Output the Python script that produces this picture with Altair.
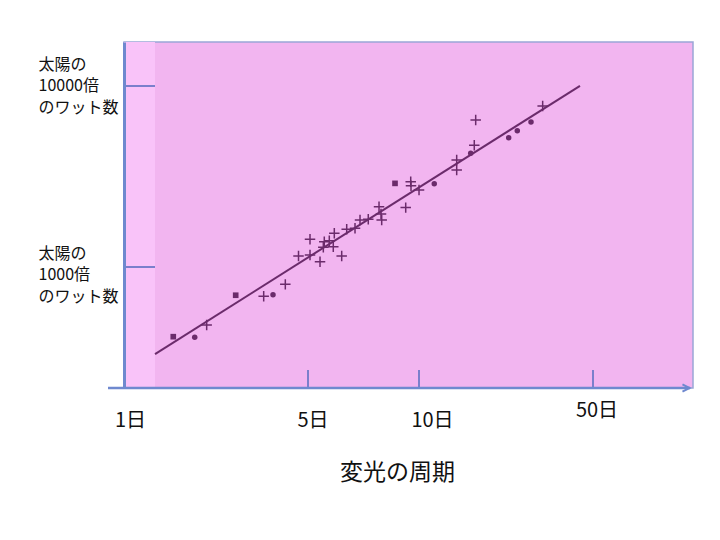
import altair as alt
import pandas as pd

# ---------------- data ----------------
# x is a relative position along the period axis (0 = axis origin, 100 = right edge)
# y is log10 of luminosity in solar units (3 = 1000x, 4 = 10000x)
plus_x = [14.53, 24.55, 28.35, 30.67, 32.69, 32.69, 34.45, 35.20, 35.03, 36.08,
          36.78, 36.96, 38.26, 39.14, 40.60, 41.48, 42.93, 44.82, 45.17, 45.29,
          49.51, 50.39, 50.44, 51.85, 58.47, 58.47, 61.56, 61.81, 73.58]
plus_y = [2.680, 2.838, 2.904, 3.061, 3.153, 3.066, 3.029, 3.140, 3.109, 3.145,
          3.112, 3.186, 3.061, 3.208, 3.214, 3.260, 3.264, 3.333, 3.293, 3.260,
          3.328, 3.471, 3.449, 3.425, 3.591, 3.536, 3.672, 3.812, 3.890]
dot_x = [12.43, 26.19, 54.53, 60.93, 67.61, 69.12, 71.53]
dot_y = [2.612, 2.847, 3.460, 3.628, 3.714, 3.753, 3.801]
square_x = [8.66, 19.63, 47.63]
square_y = [2.615, 2.844, 3.462]
fit_x = [5.45, 80.14]
fit_y = [2.519, 4.001]

xtick_pos = [32.34, 51.85, 82.43]
xlabel_pos = [1.05, 33.13, 54.13, 83.04]
xlabel_text = ["1日", "5日", "10日", "50日"]
ytick_vals = [3, 4]
ylabel_text = ["太陽の\n1000倍\nのワット数", "太陽の\n10000倍\nのワット数"]
x_title = "変光の周期"
strip_end = 5.45  # left light strip of the pasted figure

# ---------------- styling ----------------
FONT = "Noto Sans CJK JP"
PINK = "#f2b5f0"
PINK_LIGHT = "#f9c3f9"
MARK = "#6b2b6b"
AXIS_BLUE = "#6f89cf"
TICK_BLUE = "#7b7fcc"
W, H = 569, 346
LH = 21.5

# label expressions
xl_expr = " : ".join(
    f"abs(datum.value - {p}) < 0.01 ? '{t}'" for p, t in zip(xlabel_pos, xlabel_text)
) + " : ''"
yl_expr = " : ".join(
    "datum.value == {} ? [{}]".format(v, ",".join("'" + s + "'" for s in t.split("\n")))
    for v, t in zip(ytick_vals, ylabel_text)
) + " : ''"

x_axis = alt.Axis(
    values=xlabel_pos, labelExpr=xl_expr, domain=False, ticks=False, tickSize=0,
    grid=False, labelFont=FONT, labelFontSize=20, labelColor="#111111",
    labelPadding=22, labelAlign="center", labelFlush=False, labelOverlap=False,
    labelBaseline={"condition": {"test": f"abs(datum.value - {xlabel_pos[-1]}) < 0.01",
                                 "value": "middle"}, "value": "top"},
    title=x_title, titleFont=FONT, titleFontSize=23, titleFontWeight="normal",
    titleColor="#111111", titleX=273, titleY=84, titleAlign="center",
    titleBaseline="middle", zindex=1,
)
y_axis = alt.Axis(
    values=ytick_vals, labelExpr=yl_expr, domain=True, domainColor=AXIS_BLUE,
    domainWidth=3, ticks=False, tickSize=0, grid=False, labelFont=FONT,
    labelFontSize=16, labelLineHeight=LH, labelColor="#111111", labelAlign="left",
    labelBaseline="middle", labelPadding=86,
    labelOffset={"condition": {"test": f"datum.value == {ytick_vals[0]}",
                               "value": -LH + 8}, "value": -LH},
    labelFlush=False, labelOverlap=False, title=None, zindex=1,
)
x_scale = alt.Scale(domain=[0, 100], nice=False, zero=False)
y_scale = alt.Scale(domain=[2.3315, 4.243], nice=False, zero=False)


def X(field):
    return alt.X(field, type="quantitative", scale=x_scale, axis=x_axis)


def Y(field):
    return alt.Y(field, type="quantitative", scale=y_scale, axis=y_axis)


plus_df = pd.DataFrame({"x": plus_x, "y": plus_y})
dot_df = pd.DataFrame({"x": dot_x, "y": dot_y})
sq_df = pd.DataFrame({"x": square_x, "y": square_y})
fit_df = pd.DataFrame({"x": fit_x, "y": fit_y})
xt_df = pd.DataFrame({"x": xtick_pos})
yt_df = pd.DataFrame({"y": ytick_vals})
strip_df = pd.DataFrame({"x": [0], "x2": [strip_end]})

strip = alt.Chart(strip_df).mark_rect(color=PINK_LIGHT).encode(
    x=X("x"), x2="x2", y=alt.value(0), y2=alt.value(H)
)
fit = alt.Chart(fit_df).mark_line(color=MARK, strokeWidth=2).encode(x=X("x"), y=Y("y"))
plus = alt.Chart(plus_df).mark_point(
    shape="M-1,0L1,0M0,-1L0,1", filled=False, color=MARK, strokeWidth=1.5,
    size=110, opacity=1
).encode(x=X("x"), y=Y("y"))
dots = alt.Chart(dot_df).mark_point(
    shape="circle", filled=True, color=MARK, size=30, opacity=1
).encode(x=X("x"), y=Y("y"))
squares = alt.Chart(sq_df).mark_point(
    shape="square", filled=True, color=MARK, size=32, opacity=1
).encode(x=X("x"), y=Y("y"))
xticks = alt.Chart(xt_df).mark_rule(color=TICK_BLUE, strokeWidth=2).encode(
    x=X("x"), y=alt.value(H - 18), y2=alt.value(H)
)
yticks = alt.Chart(yt_df).mark_rule(color=TICK_BLUE, strokeWidth=2).encode(
    y=Y("y"), x=alt.value(0), x2=alt.value(31)
)
xline = alt.Chart(strip_df).mark_rule(color=AXIS_BLUE, strokeWidth=2.5).encode(
    x=alt.value(-16), x2=alt.value(566), y=alt.value(H)
)
arrow = alt.Chart(strip_df).mark_point(
    shape="M-1,-1L1,0L-1,1", filled=False, color=AXIS_BLUE, strokeWidth=2,
    size=50, opacity=1
).encode(x=alt.value(562), y=alt.value(H))

chart = alt.layer(
    strip, fit, plus, dots, squares, xticks, yticks, xline, arrow
).properties(
    width=W, height=H,
    padding={"left": 116, "top": 34, "right": 11, "bottom": 136},
    autosize=alt.AutoSizeParams(type="none"),
    background="white",
).configure_view(
    fill=PINK, stroke="#9aa6d6", strokeWidth=1.5
)

chart.save("out.html", embed_options={"renderer": "svg", "actions": False})
